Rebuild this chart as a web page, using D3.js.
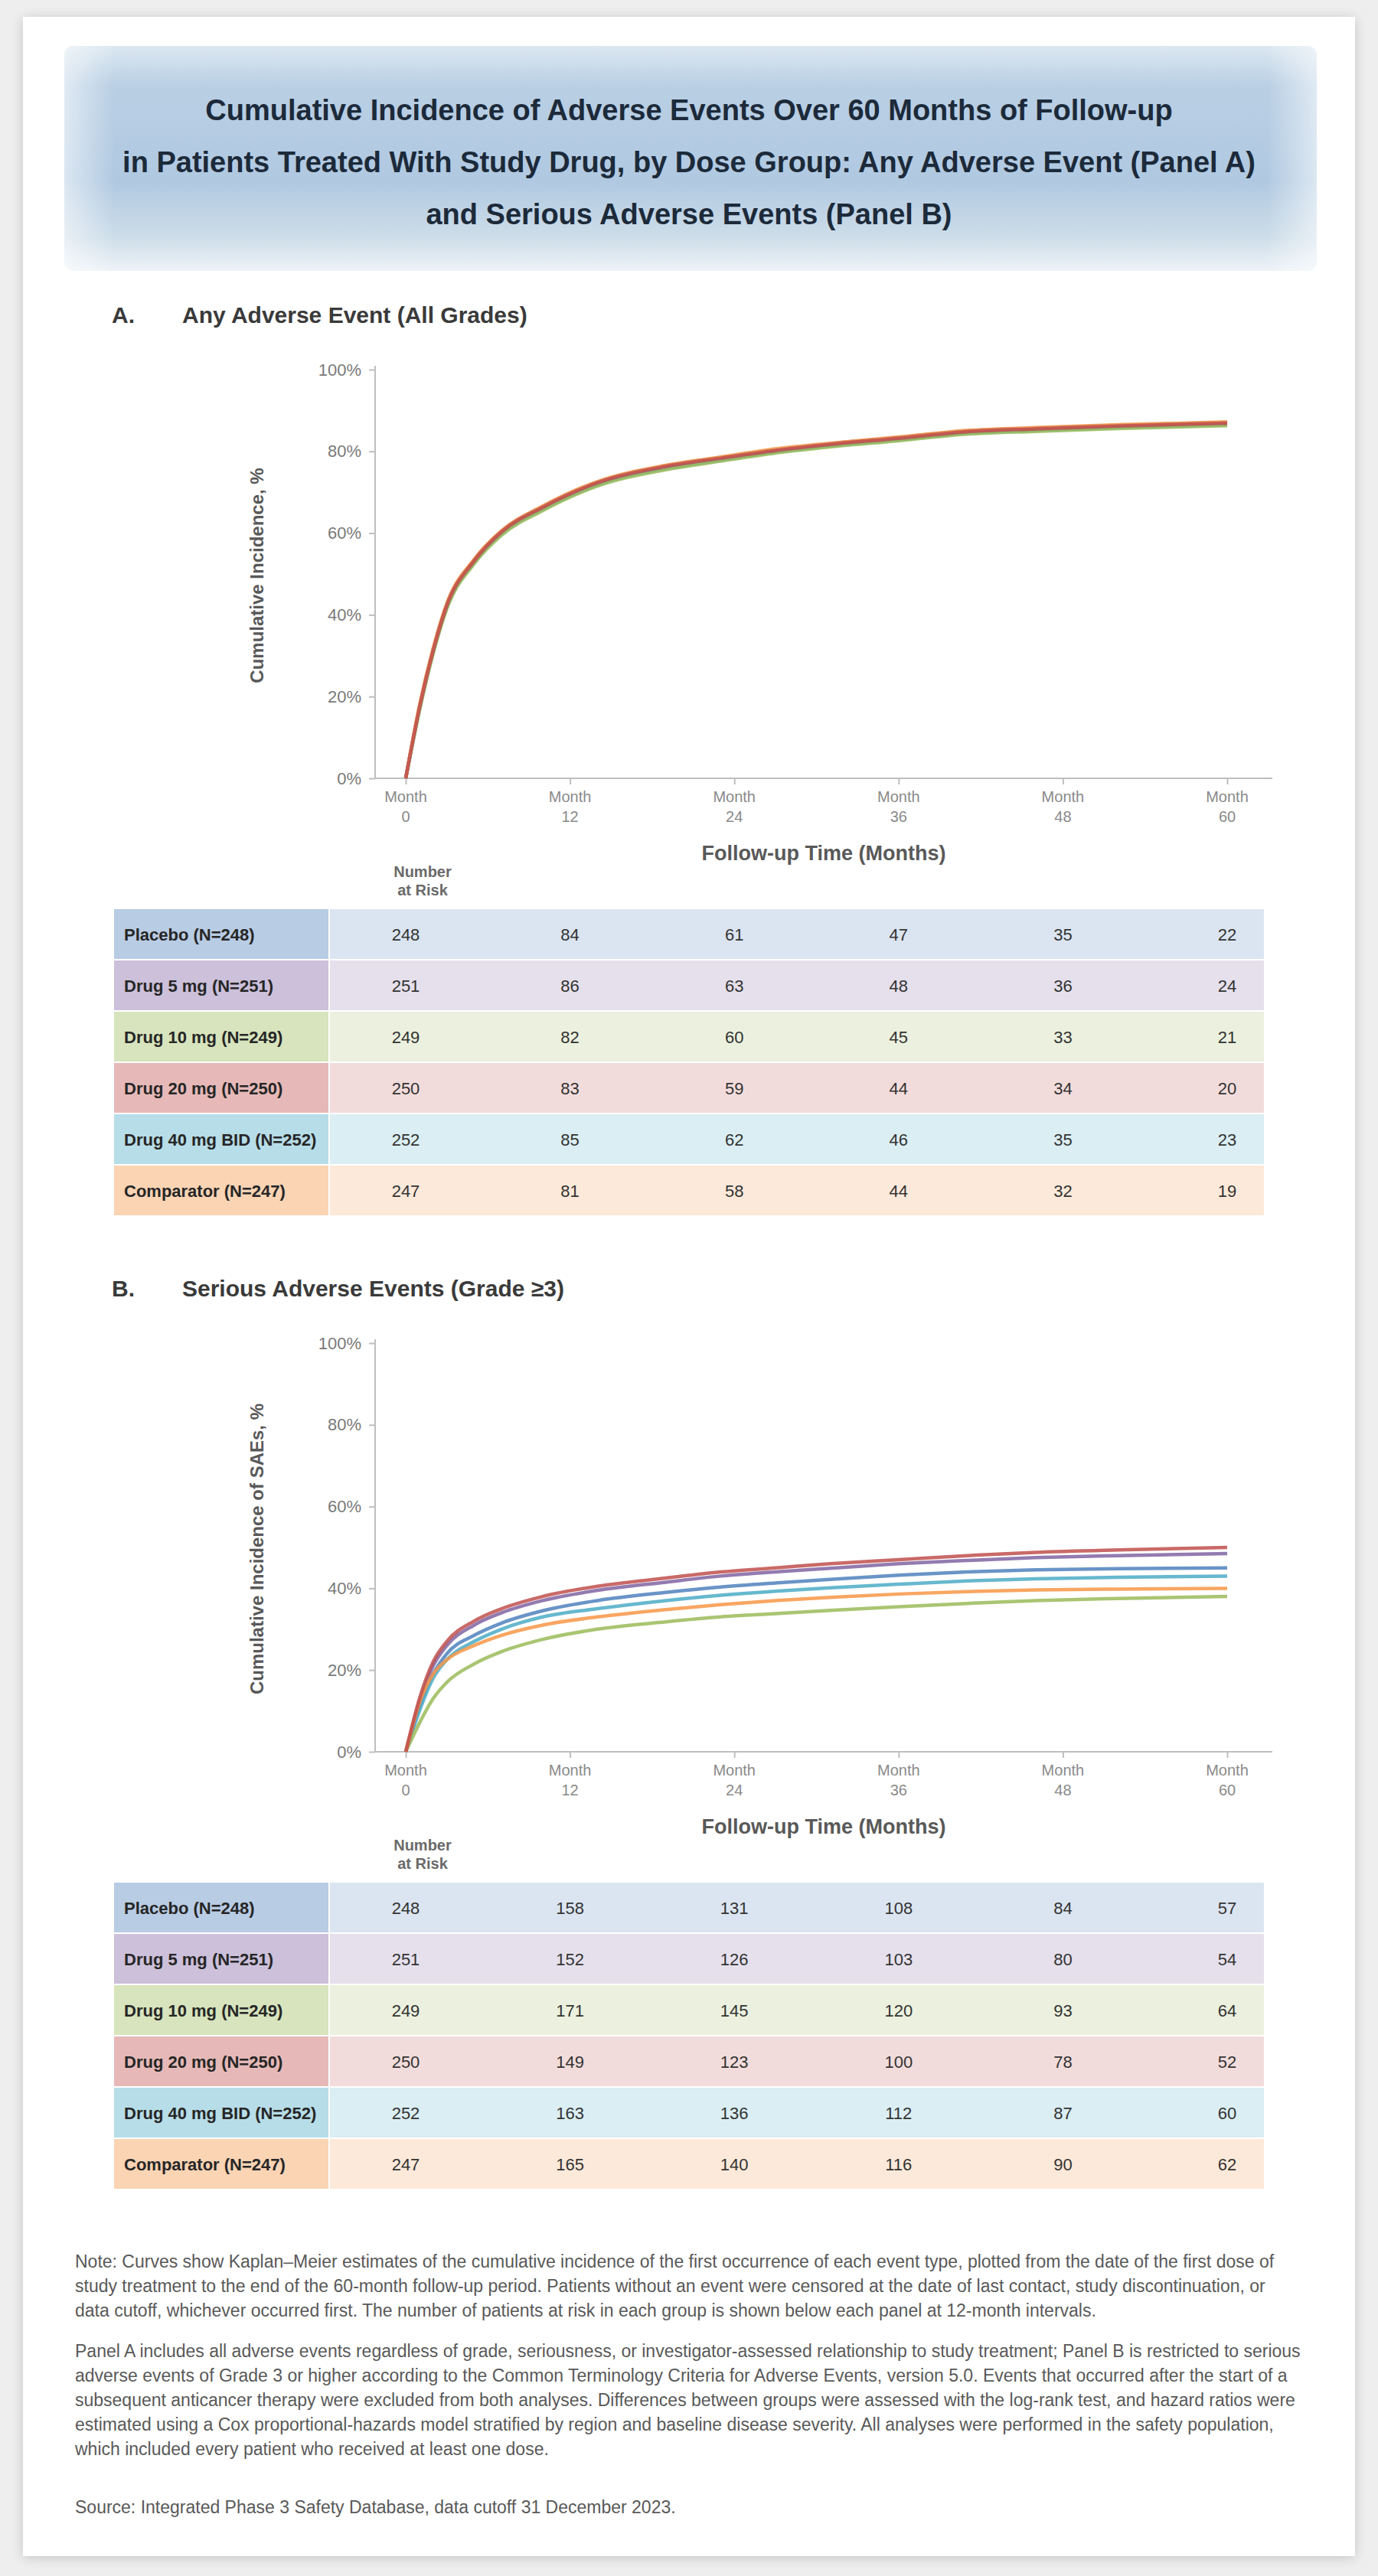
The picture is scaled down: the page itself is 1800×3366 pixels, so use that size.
<!DOCTYPE html>
<html><head><meta charset="utf-8">
<script src="https://cdn.jsdelivr.net/npm/d3@7"></script>
<style>
html,body{margin:0;padding:0;background:#eeeeee;}
svg{display:block;font-family:"Liberation Sans",Arial,sans-serif;}
</style></head>
<body>
<svg id="fig" width="1800" height="3366"></svg>
<script>
// ---------------- DATA ----------------
const titleLines = [
  "Cumulative Incidence of Adverse Events Over 60 Months of Follow-up",
  "in Patients Treated With Study Drug, by Dose Group: Any Adverse Event (Panel A)",
  "and Serious Adverse Events (Panel B)"
];
const panelLetters = ["A.", "B."];
const panelTitles = ["Any Adverse Event (All Grades)", "Serious Adverse Events (Grade \u22653)"];
const yTitles = ["Cumulative Incidence, %", "Cumulative Incidence of SAEs, %"];
const groups = ["Placebo (N=248)", "Drug 5 mg (N=251)", "Drug 10 mg (N=249)", "Drug 20 mg (N=250)", "Drug 40 mg BID (N=252)", "Comparator (N=247)"];
const groupColors = ["#4F81BD", "#8064A2", "#9BBB59", "#C0504D", "#4BACC6", "#F79646"];
const rowTints = ["#dbe5f1", "#e5e0ec", "#ebf1de", "#f2dcdb", "#daeef3", "#fde9d9"];
const labelTints = ["#b8cce4", "#ccc0da", "#d7e4bd", "#e6b9b8", "#b7dde8", "#fbd4b4"];
const yTicks = [0, 20, 40, 60, 80, 100];
const xTicks = [0, 12, 24, 36, 48, 60];
const xTickWord = "Month";
const xTitle = "Follow-up Time (Months)";
const riskLabel = ["Number", "at Risk"];

const times = [0, 1, 2, 3, 5, 7, 10, 14, 19, 23, 27, 31, 36, 41, 46, 52, 60];
// Panel A: cumulative incidence (%) per group
const aBlue   = [0, 17, 31, 42, 53, 60, 66, 72, 76, 78, 80, 81.5, 83, 84.6, 85.3, 86.0, 86.7];
const aPurple = [0, 17.5, 31.5, 42.5, 53.5, 60.5, 66.5, 72.5, 76.5, 78.5, 80.4, 81.9, 83.4, 85.0, 85.7, 86.4, 87.1];
const aGreen  = [0, 16.5, 30.5, 41.5, 52.5, 59.5, 65.5, 71.5, 75.5, 77.6, 79.6, 81.1, 82.6, 84.2, 84.9, 85.6, 86.3];
const aRed    = [0, 17.2, 31.2, 42.3, 53.2, 60.3, 66.3, 72.3, 76.3, 78.3, 80.2, 81.7, 83.2, 84.8, 85.5, 86.2, 86.9];
const aCyan   = [0, 16.8, 30.8, 41.8, 52.8, 59.8, 65.8, 71.8, 75.8, 77.8, 79.8, 81.3, 82.8, 84.4, 85.1, 85.8, 86.5];
const aOrange = [0, 17.8, 31.8, 42.8, 53.6, 60.6, 66.6, 72.6, 76.6, 78.6, 80.6, 82.0, 83.5, 85.1, 85.8, 86.5, 87.2];
// Panel B
const bBlue   = [0, 11, 19, 24, 28.5, 31.5, 34.5, 37, 39, 40.3, 41.3, 42.2, 43.2, 44, 44.5, 44.8, 45];
const bPurple = [0, 12, 21, 26, 31, 34, 37, 39.5, 41.5, 43, 44, 44.9, 46, 46.8, 47.5, 48, 48.5];
const bGreen  = [0, 7, 13, 17, 21.5, 24.5, 27.5, 30, 31.8, 33, 33.8, 34.6, 35.5, 36.3, 37, 37.5, 38];
const bRed    = [0, 13, 22, 27, 32, 35, 38, 40.5, 42.5, 44, 45, 46, 47, 48, 48.8, 49.4, 50];
const bCyan   = [0, 10, 18, 22.5, 27, 30, 33, 35, 37, 38.3, 39.3, 40.1, 41, 41.8, 42.3, 42.7, 43];
const bOrange = [0, 12, 19, 22.5, 26, 28.5, 31, 33, 34.8, 36, 37, 37.8, 38.6, 39.2, 39.6, 39.8, 40];
// Numbers at risk at xTicks
const riskA = [
  [248, 84, 61, 47, 35, 22],
  [251, 86, 63, 48, 36, 24],
  [249, 82, 60, 45, 33, 21],
  [250, 83, 59, 44, 34, 20],
  [252, 85, 62, 46, 35, 23],
  [247, 81, 58, 44, 32, 19]
];
const riskB = [
  [248, 158, 131, 108, 84, 57],
  [251, 152, 126, 103, 80, 54],
  [249, 171, 145, 120, 93, 64],
  [250, 149, 123, 100, 78, 52],
  [252, 163, 136, 112, 87, 60],
  [247, 165, 140, 116, 90, 62]
];
const footnote1 = [
  "Note: Curves show Kaplan\u2013Meier estimates of the cumulative incidence of the first occurrence of each event type, plotted from the date of the first dose of",
  "study treatment to the end of the 60-month follow-up period. Patients without an event were censored at the date of last contact, study discontinuation, or",
  "data cutoff, whichever occurred first. The number of patients at risk in each group is shown below each panel at 12-month intervals."
];
const footnote2 = [
  "Panel A includes all adverse events regardless of grade, seriousness, or investigator-assessed relationship to study treatment; Panel B is restricted to serious",
  "adverse events of Grade 3 or higher according to the Common Terminology Criteria for Adverse Events, version 5.0. Events that occurred after the start of a",
  "subsequent anticancer therapy were excluded from both analyses. Differences between groups were assessed with the log-rank test, and hazard ratios were",
  "estimated using a Cox proportional-hazards model stratified by region and baseline disease severity. All analyses were performed in the safety population,",
  "which included every patient who received at least one dose."
];
const sourceLine = "Source: Integrated Phase 3 Safety Database, data cutoff 31 December 2023.";

// ---------------- DRAW ----------------
const svg = d3.select("#fig");
const defs = svg.append("defs");
const sh = defs.append("filter").attr("id","shadow").attr("x","-5%").attr("y","-5%").attr("width","110%").attr("height","110%");
sh.append("feGaussianBlur").attr("in","SourceAlpha").attr("stdDeviation",8);
sh.append("feOffset").attr("dx",0).attr("dy",2).attr("result","b");
sh.append("feComponentTransfer").append("feFuncA").attr("type","linear").attr("slope",0.18);
const m = sh.append("feMerge"); m.append("feMergeNode"); m.append("feMergeNode").attr("in","SourceGraphic");

const bannerGrad = defs.append("linearGradient").attr("id","banner").attr("x1",0).attr("y1",0).attr("x2",0).attr("y2",1);
[["0%","#dce8f1"],["18%","#b9cfe4"],["60%","#b0c9e1"],["85%","#cddde9"],["100%","#eef3f8"]]
  .forEach(([o,c])=>bannerGrad.append("stop").attr("offset",o).attr("stop-color",c));
const bannerSide = defs.append("linearGradient").attr("id","bannerSide").attr("x1",0).attr("y1",0).attr("x2",1).attr("y2",0);
[["0%","#ffffff",0.55],["4%","#ffffff",0],["96%","#ffffff",0],["100%","#ffffff",0.55]]
  .forEach(([o,c,a])=>bannerSide.append("stop").attr("offset",o).attr("stop-color",c).attr("stop-opacity",a));

svg.append("rect").attr("width",1800).attr("height",3366).attr("fill","#eeeeee");
svg.append("rect").attr("x",30).attr("y",22).attr("width",1740).attr("height",3318).attr("fill","#ffffff").attr("filter","url(#shadow)");

// Banner
svg.append("rect").attr("x",84).attr("y",60).attr("width",1636).attr("height",294).attr("rx",12).attr("fill","url(#banner)");
svg.append("rect").attr("x",84).attr("y",60).attr("width",1636).attr("height",294).attr("rx",12).attr("fill","url(#bannerSide)");
svg.append("g").selectAll("text").data(titleLines).join("text")
  .attr("x",900).attr("y",(d,i)=>157+i*68).attr("text-anchor","middle")
  .attr("font-size",38).attr("font-weight","bold").attr("fill","#1c2a3a").text(d=>d);

const seriesA = [aBlue, aPurple, aGreen, aRed, aCyan, aOrange];
const seriesB = [bBlue, bPurple, bGreen, bRed, bCyan, bOrange];
const drawOrder = [0, 4, 2, 1, 5, 3];

function panel(idx, dy, series, risk) {
  const g = svg.append("g").attr("transform",`translate(0,${dy})`);
  // panel heading
  g.append("text").attr("x",146).attr("y",422).attr("font-size",30).attr("font-weight","bold").attr("fill","#3a3a3a").text(panelLetters[idx]);
  g.append("text").attr("x",238).attr("y",422).attr("font-size",30).attr("font-weight","bold").attr("fill","#3a3a3a").text(panelTitles[idx]);

  const x = d3.scaleLinear().domain([0,60]).range([530,1603]);
  const y = d3.scaleLinear().domain([0,100]).range([1017,483]);

  // axes lines
  g.append("line").attr("x1",490).attr("x2",490).attr("y1",478).attr("y2",1017).attr("stroke","#bfbfbf").attr("stroke-width",2);
  g.append("line").attr("x1",490).attr("x2",1662).attr("y1",1017).attr("y2",1017).attr("stroke","#bfbfbf").attr("stroke-width",2);

  const ya = g.append("g").attr("transform","translate(490,0)")
    .call(d3.axisLeft(y).tickValues(yTicks).tickFormat(d=>d+"%").tickSize(8).tickPadding(10));
  ya.select(".domain").remove();
  ya.selectAll("line").attr("stroke","#bfbfbf").attr("stroke-width",2);
  ya.selectAll("text").attr("font-size",22).attr("fill","#7a7a7a").attr("font-family","Liberation Sans, Arial, sans-serif");

  const xa = g.append("g").attr("transform","translate(0,1017)")
    .call(d3.axisBottom(x).tickValues(xTicks).tickSize(8).tickFormat(""));
  xa.select(".domain").remove();
  xa.selectAll("line").attr("stroke","#bfbfbf").attr("stroke-width",2);
  const tl = g.append("g").selectAll("text").data(xTicks).join("text")
    .attr("x",d=>x(d)).attr("y",1048).attr("text-anchor","middle").attr("font-size",20).attr("fill","#8a8a8a");
  tl.append("tspan").attr("x",d=>x(d)).text(xTickWord);
  tl.append("tspan").attr("x",d=>x(d)).attr("dy",26).text(d=>d);

  // axis titles
  g.append("text").attr("transform","translate(344,752) rotate(-90)").attr("text-anchor","middle")
    .attr("font-size",24).attr("font-weight","bold").attr("fill","#595959").text(yTitles[idx]);
  g.append("text").attr("x",1076).attr("y",1124).attr("text-anchor","middle")
    .attr("font-size",27).attr("font-weight","bold").attr("fill","#595959").text(xTitle);
  g.append("text").attr("x",552).attr("y",1146).attr("text-anchor","middle").attr("font-size",20).attr("font-weight","bold").attr("fill","#6a6a6a").text(riskLabel[0]);
  g.append("text").attr("x",552).attr("y",1170).attr("text-anchor","middle").attr("font-size",20).attr("font-weight","bold").attr("fill","#6a6a6a").text(riskLabel[1]);

  // curves
  const line = d3.line().x((d,i)=>x(times[i])).y(d=>y(d)).curve(d3.curveMonotoneX);
  g.append("g").selectAll("path").data(drawOrder).join("path")
    .attr("d",k=>line(series[k])).attr("fill","none").attr("stroke",k=>groupColors[k])
    .attr("stroke-width",4.5).attr("stroke-opacity",0.85);

  // number at risk table
  const top = 1187, rh = 67, left = 148, labW = 282, right = 1652;
  const rows = g.append("g").selectAll("g").data(groups).join("g")
    .attr("transform",(d,i)=>`translate(0,${top+i*rh})`);
  rows.append("rect").attr("x",left).attr("y",0).attr("width",right-left).attr("height",rh)
    .attr("fill",(d,i)=>rowTints[i]).attr("stroke","#ffffff").attr("stroke-width",2);
  rows.append("rect").attr("x",left).attr("y",0).attr("width",labW).attr("height",rh)
    .attr("fill",(d,i)=>labelTints[i]).attr("stroke","#ffffff").attr("stroke-width",2);
  rows.append("text").attr("x",left+14).attr("y",rh/2+8).attr("font-size",22).attr("font-weight","bold").attr("fill","#262626").text(d=>d);
  rows.each(function(d,i){
    d3.select(this).selectAll("text.n").data(risk[i]).join("text").attr("class","n")
      .attr("x",(v,j)=>x(xTicks[j])).attr("y",rh/2+8).attr("text-anchor","middle")
      .attr("font-size",22).attr("fill","#333333").text(v=>v);
  });
}
panel(0, 0, seriesA, riskA);
panel(1, 1272, seriesB, riskB);

// footnotes
const fn = svg.append("g").attr("font-size",23).attr("fill","#595959");
fn.selectAll("text.p1").data(footnote1).join("text").attr("class","p1").attr("x",98).attr("y",(d,i)=>2963+i*32).text(d=>d);
fn.selectAll("text.p2").data(footnote2).join("text").attr("class","p2").attr("x",98).attr("y",(d,i)=>3080+i*32).text(d=>d);
fn.append("text").attr("x",98).attr("y",3284).text(sourceLine);
</script>
</body></html>
